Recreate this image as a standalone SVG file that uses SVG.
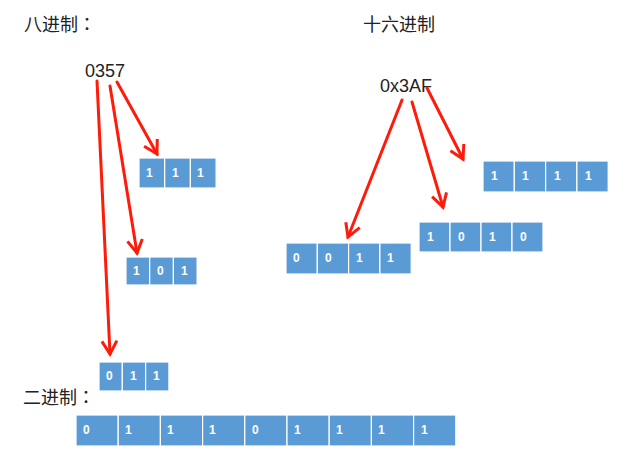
<svg xmlns="http://www.w3.org/2000/svg" width="628" height="453" viewBox="0 0 628 453">
<style>
.lbl{font-family:"Liberation Sans","Noto Sans CJK SC",sans-serif;fill:#222;}
.t{font-size:18px;font-family:"Noto Sans CJK SC",sans-serif;}
.colon{font-family:"Noto Sans CJK JP",sans-serif;}
.num{font-size:18px;}
.cell{fill:#5B9BD5;stroke:#ffffff;stroke-width:1.2;}
.bit{font-family:"Liberation Sans",Arial,sans-serif;font-size:12px;font-weight:bold;fill:#ffffff;}
.arr{stroke:#FF1A0A;stroke-width:3;fill:none;stroke-linecap:round;}
</style>
<defs>
<marker id="ah" markerUnits="userSpaceOnUse" markerWidth="20" markerHeight="20" viewBox="0 0 20 20" refX="16" refY="10" orient="auto">
<path d="M3,2.5 L16,10 L3,17.5" fill="none" stroke="#FF1A0A" stroke-width="3" stroke-linejoin="miter"/>
</marker>
</defs>
<rect width="628" height="453" fill="#ffffff"/>

<g id="title-octal"><text class="lbl t" x="24" y="31">八进制<tspan class="colon">：</tspan></text></g>
<g id="title-hex"><text class="lbl t" x="363" y="31">十六进制</text></g>
<g id="title-bin"><text class="lbl t" x="23" y="404">二进制<tspan class="colon">：</tspan></text></g>

<g id="octal-value"><text class="lbl num" x="85" y="77">0357</text></g>
<g id="hex-value"><text class="lbl num" x="380" y="92">0x3AF</text></g>

<g id="oct-7">
<rect class="cell" x="139" y="158" width="25.7" height="30"/>
<rect class="cell" x="164.7" y="158" width="25.7" height="30"/>
<rect class="cell" x="190.4" y="158" width="25.7" height="30"/>
<text class="bit" x="146" y="177">1</text>
<text class="bit" x="172" y="177">1</text>
<text class="bit" x="197" y="177">1</text>
</g>

<g id="oct-5">
<rect class="cell" x="126" y="257" width="23.7" height="28"/>
<rect class="cell" x="149.7" y="257" width="23.7" height="28"/>
<rect class="cell" x="173.4" y="257" width="23.7" height="28"/>
<text class="bit" x="133" y="275">1</text>
<text class="bit" x="157" y="275">0</text>
<text class="bit" x="181" y="275">1</text>
</g>

<g id="oct-3">
<rect class="cell" x="99" y="362" width="23.3" height="29"/>
<rect class="cell" x="122.3" y="362" width="23.3" height="29"/>
<rect class="cell" x="145.6" y="362" width="23.3" height="29"/>
<text class="bit" x="106" y="380">0</text>
<text class="bit" x="130" y="380">1</text>
<text class="bit" x="153" y="380">1</text>
</g>

<g id="hex-F">
<rect class="cell" x="483" y="161" width="31.3" height="31"/>
<rect class="cell" x="514.3" y="161" width="31.3" height="31"/>
<rect class="cell" x="545.6" y="161" width="31.3" height="31"/>
<rect class="cell" x="576.9" y="161" width="31.3" height="31"/>
<text class="bit" x="491" y="180">1</text>
<text class="bit" x="522" y="180">1</text>
<text class="bit" x="554" y="180">1</text>
<text class="bit" x="585" y="180">1</text>
</g>

<g id="hex-A">
<rect class="cell" x="419" y="222" width="31" height="30"/>
<rect class="cell" x="450" y="222" width="31" height="30"/>
<rect class="cell" x="481" y="222" width="31" height="30"/>
<rect class="cell" x="512" y="222" width="31" height="30"/>
<text class="bit" x="427" y="241">1</text>
<text class="bit" x="458" y="241">0</text>
<text class="bit" x="489" y="241">1</text>
<text class="bit" x="520" y="241">0</text>
</g>

<g id="hex-3">
<rect class="cell" x="286" y="243" width="31.3" height="31"/>
<rect class="cell" x="317.3" y="243" width="31.3" height="31"/>
<rect class="cell" x="348.6" y="243" width="31.3" height="31"/>
<rect class="cell" x="379.9" y="243" width="31.3" height="31"/>
<text class="bit" x="293" y="262">0</text>
<text class="bit" x="325" y="262">0</text>
<text class="bit" x="356" y="262">1</text>
<text class="bit" x="387" y="262">1</text>
</g>

<g id="binary">
<rect class="cell" x="76" y="415" width="42.2" height="31"/>
<rect class="cell" x="118.2" y="415" width="42.2" height="31"/>
<rect class="cell" x="160.4" y="415" width="42.2" height="31"/>
<rect class="cell" x="202.6" y="415" width="42.2" height="31"/>
<rect class="cell" x="244.8" y="415" width="42.2" height="31"/>
<rect class="cell" x="287" y="415" width="42.2" height="31"/>
<rect class="cell" x="329.2" y="415" width="42.2" height="31"/>
<rect class="cell" x="371.4" y="415" width="42.2" height="31"/>
<rect class="cell" x="413.6" y="415" width="42.2" height="31"/>
<text class="bit" x="83" y="434">0</text>
<text class="bit" x="125" y="434">1</text>
<text class="bit" x="167" y="434">1</text>
<text class="bit" x="209" y="434">1</text>
<text class="bit" x="252" y="434">0</text>
<text class="bit" x="294" y="434">1</text>
<text class="bit" x="336" y="434">1</text>
<text class="bit" x="378" y="434">1</text>
<text class="bit" x="421" y="434">1</text>
</g>

<g id="connectors">
<line class="arr" x1="117" y1="82" x2="157" y2="154" marker-end="url(#ah)"/>
<line class="arr" x1="110" y1="86" x2="137" y2="253" marker-end="url(#ah)"/>
<line class="arr" x1="97" y1="81" x2="110" y2="354" marker-end="url(#ah)"/>
<line class="arr" x1="402" y1="100" x2="348" y2="237" marker-end="url(#ah)"/>
<line class="arr" x1="412" y1="102" x2="443" y2="207" marker-end="url(#ah)"/>
<line class="arr" x1="427" y1="88" x2="463" y2="159" marker-end="url(#ah)"/>
</g>
</svg>
